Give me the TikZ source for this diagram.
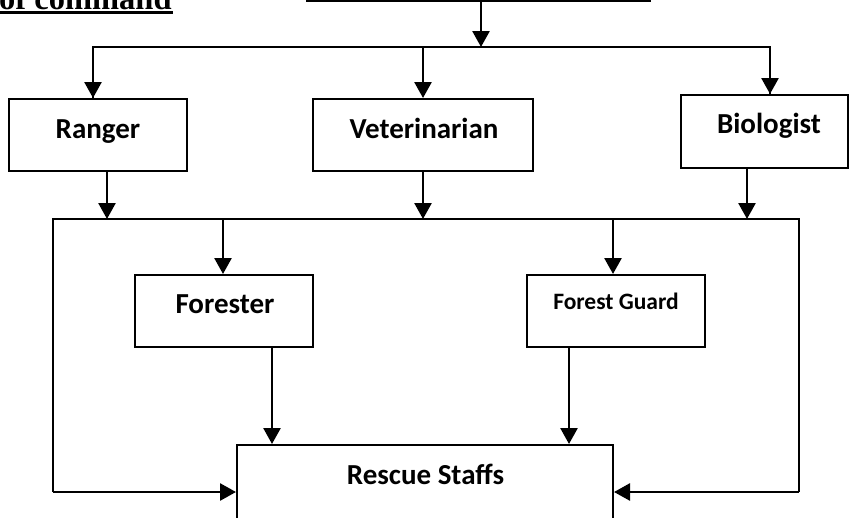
\documentclass[tikz,border=0pt]{standalone}
\usepackage{fontspec}
\setmainfont{Liberation Serif}
\newfontfamily\calibrifont{Carlito}
\usetikzlibrary{arrows.meta}
\begin{document}
\begin{tikzpicture}[x=1pt,y=-1pt,
  box/.style={draw, line width=2pt, rectangle, inner sep=0pt},
  lbl/.style={font=\calibrifont\bfseries\fontsize{29}{31}\selectfont, inner sep=0pt, anchor=base},
  slbl/.style={font=\calibrifont\bfseries\fontsize{23.5}{26}\selectfont, inner sep=0pt, anchor=base},
  ln/.style={line width=2.6pt},
  arr/.style={line width=2.6pt, -{Triangle[width=17pt,length=16pt]}}]
\clip (0,0) rectangle (850,517);
\fill[white] (0,0) rectangle (850,517);
% title fragment
\node[font=\bfseries\fontsize{32.5}{34}\selectfont, inner sep=0pt, anchor=base west] (title) at (-1,9) {of command};
\draw[line width=3pt] (0,12.5) -- (173,12.5);
% boxes
\node[box, minimum width=343pt, minimum height=72pt] (top) at (478.5,-35) {};
\node[box, minimum width=178pt, minimum height=72pt] (ranger) at (98,135) {};
\node[box, minimum width=220pt, minimum height=72pt] (vet) at (423,135) {};
\node[box, minimum width=167pt, minimum height=73pt] (bio) at (764.5,131.5) {};
\node[box, minimum width=178pt, minimum height=72pt] (forester) at (224,311) {};
\node[box, minimum width=178pt, minimum height=72pt] (guard) at (616,311) {};
\node[box, minimum width=376pt, minimum height=76pt] (rescue) at (425,483) {};
% labels
\node[lbl] (rangerT) at (98,138) {Ranger};
\node[lbl] (vetT) at (424,138) {Veterinarian};
\node[lbl] (bioT) at (769,133) {Biologist};
\node[lbl] (foresterT) at (225,313) {Forester};
\node[slbl] (guardT) at (616,309) {Forest Guard};
\node[lbl] (rescueT) at (425.5,484) {Rescue Staffs};
% bus coordinates
\coordinate (busA) at (481,47);
\coordinate (busAL) at (93,47);
\coordinate (busAR) at (770,47);
\coordinate (busBL) at (53,219);
\coordinate (busBR) at (799,219);
\coordinate (cornerL) at (53,492);
\coordinate (cornerR) at (799,492);
% top box to first bus
\draw[arr] (top.south -| busA) -- (busA);
\draw[ln] (ranger.north -| busAL) |- (busAR) -- (bio.north -| busAR);
\draw[arr] (busAL) -- (ranger.north -| busAL);
\draw[arr] (busAR) -- (bio.north -| busAR);
\draw[arr] (vet.north |- busA) -- (vet.north);
% second bus
\draw[ln] (cornerL) -- (busBL) -- (busBR) -- (cornerR);
\draw[arr] (ranger.south -| 107,0) -- (busBL -| 107,0);
\draw[arr] (vet.south) -- (busBL -| vet.south);
\draw[arr] (bio.south -| 747,0) -- (busBL -| 747,0);
\draw[arr] (busBL -| 223,0) -- (forester.north -| 223,0);
\draw[arr] (busBL -| 613,0) -- (guard.north -| 613,0);
% into rescue
\draw[arr] (forester.south -| 272,0) -- (rescue.north -| 272,0);
\draw[arr] (guard.south -| 569,0) -- (rescue.north -| 569,0);
\draw[arr] (cornerL) -- (rescue.west |- cornerL);
\draw[arr] (cornerR) -- (rescue.east |- cornerR);
\end{tikzpicture}
\end{document}
